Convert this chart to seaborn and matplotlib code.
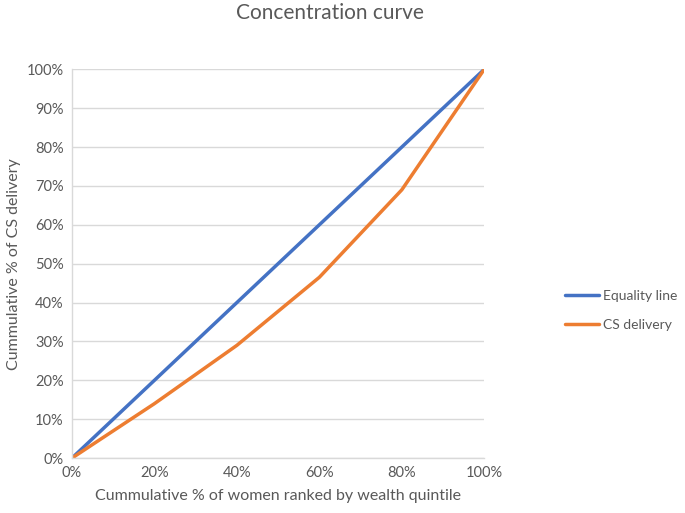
import matplotlib
matplotlib.use("Agg")
import matplotlib.pyplot as plt
import matplotlib.ticker as mticker
import seaborn as sns
import pandas as pd

# cumulative % of women ranked by wealth quintile
quintile_pct = [0, 20, 40, 60, 80, 100]
equality_line = [0, 20, 40, 60, 80, 100]
cs_delivery = [0, 14, 29, 46.5, 69, 100]

df = pd.DataFrame({
    "x": quintile_pct * 2,
    "y": equality_line + cs_delivery,
    "series": ["Equality line"] * 6 + ["CS delivery"] * 6,
})

sns.set_style("white")
plt.rcParams["font.family"] = ["Lato", "DejaVu Sans"]

fig = plt.figure(figsize=(6.85, 5.13), dpi=100)
ax = fig.add_axes([0.105, 0.107, 0.602, 0.758])

sns.lineplot(data=df, x="x", y="y", hue="series",
             palette={"Equality line": "#4472C4", "CS delivery": "#ED7D31"},
             linewidth=2.5, ax=ax)

ax.set_xlim(0, 100)
ax.set_ylim(0, 100)
ax.set_xticks(range(0, 101, 20))
ax.set_yticks(range(0, 101, 10))
ax.xaxis.set_major_formatter(mticker.FuncFormatter(lambda v, p: f"{v:.0f}%"))
ax.yaxis.set_major_formatter(mticker.FuncFormatter(lambda v, p: f"{v:.0f}%"))
ax.tick_params(length=0, labelsize=10.5, colors="#595959", pad=6)
ax.grid(axis="y", color="#d9d9d9", linewidth=1)
ax.set_axisbelow(True)
for s in ["top", "right"]:
    ax.spines[s].set_visible(False)
for s in ["left", "bottom"]:
    ax.spines[s].set_color("#d9d9d9")
    ax.spines[s].set_linewidth(1)

ax.set_xlabel("Cummulative % of women ranked by wealth quintile",
              fontsize=11.5, color="#595959", labelpad=6)
ax.set_ylabel("Cummulative % of CS delivery",
              fontsize=11.5, color="#595959", labelpad=4)

fig.text(330 / 685, 1 - 13 / 513, "Concentration curve",
         ha="center", va="center", fontsize=15, color="#595959")

handles, labels = ax.get_legend_handles_labels()
ax.legend(handles, labels, loc="center left", bbox_to_anchor=(0.806, 0.395),
          bbox_transform=fig.transFigure, frameon=False, fontsize=10,
          labelcolor="#595959", handlelength=2.5, handletextpad=0.3,
          labelspacing=1.2)

fig.savefig("out.png", dpi=100)
